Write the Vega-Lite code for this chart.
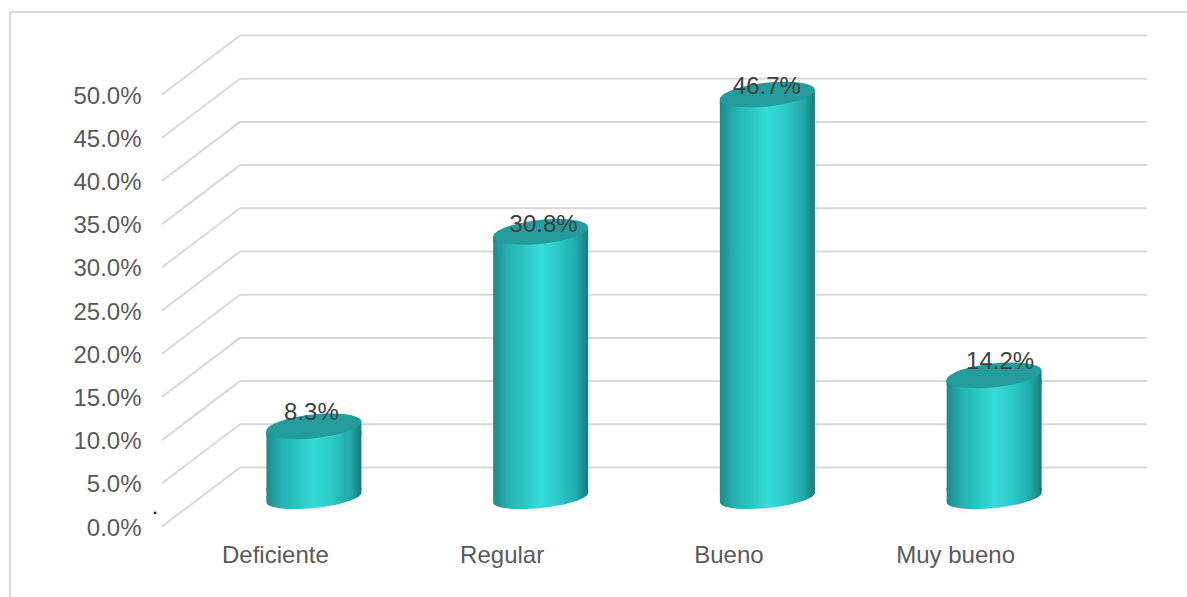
{
  "$schema": "https://vega.github.io/schema/vega-lite/v6.json",
  "width": 907,
  "height": 432,
  "autosize": "none",
  "padding": {"left": 162, "top": 94.5, "right": 118, "bottom": 70.5},
  "background": "white",
  "config": {"view": {"stroke": null}},
  "title": {"text": "p", "font": "Liberation Serif", "fontSize": 20, "fontWeight": "bold", "color": "#000000", "anchor": "start", "frame": "group", "dx": -100, "offset": 84},
  "datasets": {
    "bars": [
      {"nivel": "Deficiente", "pct": 0.083},
      {"nivel": "Regular", "pct": 0.308},
      {"nivel": "Bueno", "pct": 0.467},
      {"nivel": "Muy bueno", "pct": 0.142}
    ],
    "grid": [
      {"tick": 0}, {"tick": 0.05}, {"tick": 0.1}, {"tick": 0.15}, {"tick": 0.2}, {"tick": 0.25},
      {"tick": 0.3}, {"tick": 0.35}, {"tick": 0.4}, {"tick": 0.45}, {"tick": 0.5}
    ],
    "stray": [{"nota": ".", "v": 0.014}]
  },
  "encoding": {
    "x": {"field": "nivel", "type": "nominal", "sort": ["Deficiente", "Regular", "Bueno", "Muy bueno"],
      "scale": {"domain": ["Deficiente", "Regular", "Bueno", "Muy bueno"], "paddingInner": 0, "paddingOuter": 0},
      "axis": {"title": null, "domain": false, "ticks": false, "labelAngle": 0, "labelFont": "Liberation Sans", "labelFontSize": 24, "labelColor": "#595959", "labelPadding": 17, "labelBaseline": "top"}},
    "y": {"type": "quantitative", "scale": {"domain": [0, 0.5], "nice": false, "zero": true},
      "axis": {"title": null, "format": ".1%", "values": [0, 0.05, 0.1, 0.15, 0.2, 0.25, 0.3, 0.35, 0.4, 0.45, 0.5], "domain": false, "ticks": false, "grid": false, "labelFont": "Liberation Sans", "labelFontSize": 24, "labelColor": "#595959", "labelPadding": 21, "labelOffset": 1.5}}
  },
  "layer": [
    {
      "data": {"values": [{"borde": "superior"}]},
      "mark": {"type": "rule", "color": "#d9d9d9", "strokeWidth": 2, "xOffset": -152, "x2Offset": 250, "clip": false},
      "encoding": {"x": {"datum": "Deficiente", "bandPosition": 0}, "x2": {"datum": "Muy bueno"}, "y": {"datum": 0.5955}}
    },
    {
      "data": {"values": [{"borde": "izquierdo"}]},
      "mark": {"type": "rule", "color": "#d9d9d9", "strokeWidth": 2, "xOffset": -152, "clip": false},
      "encoding": {"x": {"datum": "Deficiente", "bandPosition": 0}, "y": {"datum": 0.5955}, "y2": {"datum": -0.09}}
    },
    {
      "data": {"name": "grid"},
      "mark": {"type": "rule", "color": "#d9d9d9", "strokeWidth": 2, "xOffset": 78, "x2Offset": 191.4, "yOffset": -59, "y2Offset": -59, "clip": false},
      "encoding": {"x": {"datum": "Deficiente", "bandPosition": 0}, "x2": {"datum": "Muy bueno"}, "y": {"field": "tick", "type": "quantitative"}}
    },
    {
      "data": {"name": "grid"},
      "mark": {"type": "rule", "color": "#d9d9d9", "strokeWidth": 2, "x2Offset": -35.4, "y2Offset": -59, "clip": false},
      "encoding": {"x": {"datum": "Deficiente", "bandPosition": 0}, "x2": {"datum": "Deficiente"}, "y": {"field": "tick", "type": "quantitative"}, "y2": {"field": "tick"}}
    },
    {
      "data": {"name": "stray"},
      "mark": {"type": "text", "font": "Liberation Serif", "fontSize": 20, "color": "#000000", "xOffset": -7, "baseline": "alphabetic", "clip": false},
      "encoding": {"x": {"datum": "Deficiente", "bandPosition": 0}, "y": {"field": "v", "type": "quantitative"}, "text": {"field": "nota"}}
    },
    {
      "data": {"name": "bars"},
      "mark": {"type": "point", "filled": true, "size": 9025, "opacity": 1, "xOffset": 38.5, "yOffset": -29,
        "shape": "M-1,-0.2 L1,-0.2 L1,-0.105 C1.012,0.0165 0.574,0.162 0.022,0.22 C-0.53,0.278 -0.988,0.2265 -1,0.105 Z",
        "color": {"gradient": "linear", "x1": 0, "y1": 0, "x2": 1, "y2": 0, "stops": [
          {"offset": 0, "color": "#1c8a8c"}, {"offset": 0.15, "color": "#25b0b0"}, {"offset": 0.3, "color": "#2ac2c0"},
          {"offset": 0.5, "color": "#35dcd9"}, {"offset": 0.7, "color": "#2bc8c6"}, {"offset": 0.88, "color": "#22a8a8"}, {"offset": 1, "color": "#177b7d"}]}},
      "encoding": {"y": {"datum": 0}}
    },
    {
      "data": {"name": "bars"},
      "mark": {"type": "bar", "width": 95, "xOffset": 38.5, "yOffset": -24, "y2Offset": -36,
        "color": {"gradient": "linear", "x1": 0, "y1": 0, "x2": 1, "y2": 0, "stops": [
          {"offset": 0, "color": "#1c8a8c"}, {"offset": 0.15, "color": "#25b0b0"}, {"offset": 0.3, "color": "#2ac2c0"},
          {"offset": 0.5, "color": "#35dcd9"}, {"offset": 0.7, "color": "#2bc8c6"}, {"offset": 0.88, "color": "#22a8a8"}, {"offset": 1, "color": "#177b7d"}]}},
      "encoding": {"y": {"field": "pct", "type": "quantitative"}, "y2": {"datum": 0}}
    },
    {
      "data": {"name": "bars"},
      "mark": {"type": "point", "filled": true, "size": 9025, "opacity": 1, "xOffset": 38.5, "yOffset": -28.5,
        "shape": "M-1,0.105 L1,-0.105 L1,0.2 L-1,0.2 Z",
        "color": {"gradient": "linear", "x1": 0, "y1": 0, "x2": 1, "y2": 0, "stops": [
          {"offset": 0, "color": "#1c8a8c"}, {"offset": 0.15, "color": "#25b0b0"}, {"offset": 0.3, "color": "#2ac2c0"},
          {"offset": 0.5, "color": "#35dcd9"}, {"offset": 0.7, "color": "#2bc8c6"}, {"offset": 0.88, "color": "#22a8a8"}, {"offset": 1, "color": "#177b7d"}]}},
      "encoding": {"y": {"field": "pct", "type": "quantitative"}}
    },
    {
      "data": {"name": "bars"},
      "mark": {"type": "point", "filled": true, "size": 9025, "opacity": 1, "xOffset": 38.5, "yOffset": -28.5,
        "shape": "M-1,0.105 C-1.013,-0.033 -0.576,-0.192 -0.024,-0.25 C0.528,-0.308 0.987,-0.243 1,-0.105 C1.013,0.033 0.576,0.192 0.024,0.25 C-0.528,0.308 -0.987,0.243 -1,0.105 Z",
        "color": "#249c9c"},
      "encoding": {"y": {"field": "pct", "type": "quantitative"}}
    },
    {
      "data": {"name": "bars"},
      "transform": [{"filter": "datum.nivel === 'Deficiente'"}],
      "mark": {"type": "text", "font": "Liberation Sans", "fontSize": 24, "color": "#404040", "xOffset": 36, "yOffset": -42},
      "encoding": {"y": {"field": "pct", "type": "quantitative"}, "text": {"field": "pct", "format": ".1%"}}
    },
    {
      "data": {"name": "bars"},
      "transform": [{"filter": "datum.nivel === 'Regular'"}],
      "mark": {"type": "text", "font": "Liberation Sans", "fontSize": 24, "color": "#404040", "xOffset": 41.5, "yOffset": -35},
      "encoding": {"y": {"field": "pct", "type": "quantitative"}, "text": {"field": "pct", "format": ".1%"}}
    },
    {
      "data": {"name": "bars"},
      "transform": [{"filter": "datum.nivel === 'Bueno'"}],
      "mark": {"type": "text", "font": "Liberation Sans", "fontSize": 24, "color": "#404040", "xOffset": 38, "yOffset": -36},
      "encoding": {"y": {"field": "pct", "type": "quantitative"}, "text": {"field": "pct", "format": ".1%"}}
    },
    {
      "data": {"name": "bars"},
      "transform": [{"filter": "datum.nivel === 'Muy bueno'"}],
      "mark": {"type": "text", "font": "Liberation Sans", "fontSize": 24, "color": "#404040", "xOffset": 44.5, "yOffset": -42},
      "encoding": {"y": {"field": "pct", "type": "quantitative"}, "text": {"field": "pct", "format": ".1%"}}
    }
  ]
}
